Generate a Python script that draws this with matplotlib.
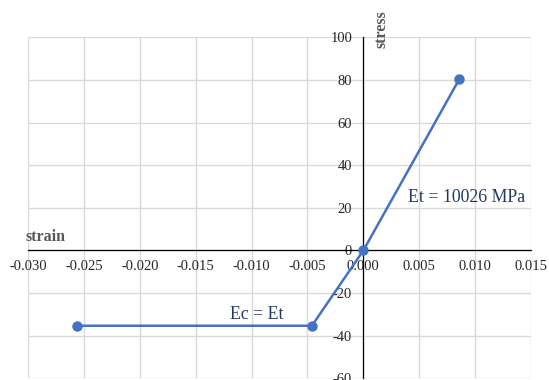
import numpy as np
import matplotlib.pyplot as plt

plt.rcParams['font.family'] = ['Liberation Serif', 'DejaVu Serif']

# bilinear stress-strain curve
strain = [-0.0256, -0.0046, 0.0, 0.0086]
stress = [-35.3, -35.3, 0.0, 80.5]

x_ticks = np.arange(-0.030, 0.0151, 0.005)
y_ticks = np.arange(-60, 101, 20)

fig = plt.figure(figsize=(5.49, 3.80), dpi=100)
ax = fig.add_axes([0.0510, 0.0042, 0.9162, 0.8976])

ax.plot(strain, stress, color='#4472C4', lw=1.8, marker='o', ms=6.5,
        zorder=4, clip_on=False)

ax.set_xlim(-0.030, 0.015)
ax.set_ylim(-60, 100)
ax.set_xticks(x_ticks)
ax.set_yticks(y_ticks)
ax.set_xticklabels([f'{v:.3f}' for v in x_ticks])
ax.set_yticklabels([f'{v:d}' for v in y_ticks])

ax.grid(True, color='#D9D9D9', lw=1.0, zorder=0)
ax.set_axisbelow(True)

for s in ['top', 'right']:
    ax.spines[s].set_visible(False)
ax.spines['left'].set_position(('data', 0))
ax.spines['bottom'].set_position(('data', 0))
for s in ['left', 'bottom']:
    ax.spines[s].set_color('black')
    ax.spines[s].set_linewidth(0.9)
    ax.spines[s].set_zorder(2)

ax.tick_params(axis='x', length=0, pad=7, labelsize=10.5, colors='#262626')
ax.tick_params(axis='y', length=0, pad=8, labelsize=10.5, colors='#262626')

# axis titles
fig.text(25 / 549, 1 - 237 / 380, 'strain', fontsize=11.5, fontweight='bold',
         color='#595959', ha='left', va='center')
fig.text(381 / 549, 1 - 29 / 380, 'stress', fontsize=11.5, fontweight='bold',
         color='#595959', rotation=90, ha='center', va='center')

# modulus labels
ax.text(0.00925, 24.8, 'Et = 10026 MPa', fontsize=12.8, color='#203864',
        ha='center', va='center')
ax.text(-0.00956, -30.1, 'Ec = Et', fontsize=12.8, color='#203864',
        ha='center', va='center')

fig.savefig('out.png', dpi=100)
